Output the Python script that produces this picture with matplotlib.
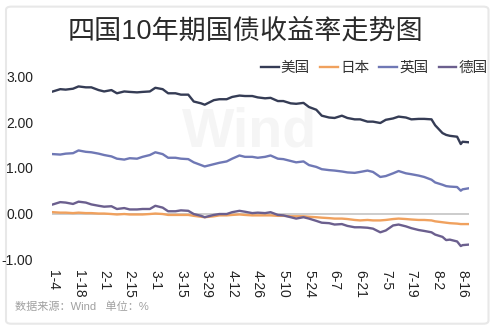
import matplotlib
matplotlib.use("Agg")
import matplotlib.pyplot as plt
from matplotlib.patches import FancyBboxPatch
import pandas as pd

plt.rcParams['font.family'] = ['Liberation Sans', 'Noto Sans CJK SC', 'DejaVu Sans']

# sampling dates (2019) and 10y yields in %
dates = ["01-04", "01-08", "01-11", "01-15", "01-18", "01-22", "01-25", "01-29",
         "02-01", "02-05", "02-08", "02-12", "02-15", "02-19", "02-22", "02-26",
         "03-01", "03-05", "03-08", "03-12", "03-15", "03-19", "03-22", "03-26",
         "03-28", "04-02", "04-05", "04-09", "04-12", "04-16", "04-19", "04-23",
         "04-26", "04-30", "05-03", "05-07", "05-10", "05-14", "05-17", "05-21",
         "05-24", "05-28", "05-31", "06-04", "06-07", "06-11", "06-14", "06-18",
         "06-21", "06-25", "06-28", "07-02", "07-05", "07-09", "07-12", "07-16",
         "07-19", "07-23", "07-26", "07-30", "08-01", "08-05", "08-07", "08-09",
         "08-13", "08-15", "08-16", "08-19"]

us = [2.67, 2.72, 2.71, 2.73, 2.78, 2.76, 2.76, 2.70,
      2.67, 2.70, 2.63, 2.67, 2.66, 2.65, 2.66, 2.67,
      2.75, 2.72, 2.63, 2.63, 2.60, 2.60, 2.45, 2.41,
      2.38, 2.48, 2.50, 2.50, 2.55, 2.58, 2.57, 2.57,
      2.54, 2.52, 2.53, 2.46, 2.46, 2.41, 2.40, 2.42,
      2.33, 2.27, 2.14, 2.10, 2.09, 2.14, 2.09, 2.06,
      2.06, 2.01, 2.01, 1.98, 2.05, 2.08, 2.12, 2.10,
      2.06, 2.07, 2.07, 2.06, 1.93, 1.76, 1.72, 1.70,
      1.68, 1.52, 1.57, 1.56]

japan = [0.03, 0.02, 0.02, 0.01, 0.02, 0.01, 0.01, 0.00,
         0.00, -0.01, -0.02, -0.01, -0.02, -0.02, -0.02, -0.01,
         0.00, -0.01, -0.03, -0.03, -0.03, -0.03, -0.05, -0.07,
         -0.08, -0.06, -0.04, -0.04, -0.03, -0.02, -0.03, -0.04,
         -0.04, -0.04, -0.04, -0.05, -0.05, -0.06, -0.06, -0.06,
         -0.07, -0.08, -0.09, -0.10, -0.11, -0.11, -0.12, -0.14,
         -0.15, -0.14, -0.15, -0.15, -0.14, -0.12, -0.11, -0.12,
         -0.13, -0.14, -0.14, -0.15, -0.17, -0.19, -0.20, -0.21,
         -0.22, -0.23, -0.23, -0.23]

uk = [1.30, 1.29, 1.31, 1.32, 1.38, 1.35, 1.34, 1.31,
      1.28, 1.25, 1.20, 1.18, 1.21, 1.20, 1.24, 1.28,
      1.34, 1.30, 1.22, 1.22, 1.20, 1.19, 1.12, 1.06,
      1.03, 1.08, 1.11, 1.14, 1.20, 1.27, 1.24, 1.24,
      1.22, 1.24, 1.27, 1.20, 1.19, 1.15, 1.12, 1.14,
      1.06, 1.02, 0.97, 0.95, 0.94, 0.92, 0.90, 0.89,
      0.91, 0.94, 0.91, 0.80, 0.82, 0.88, 0.93, 0.88,
      0.86, 0.83, 0.80, 0.74, 0.68, 0.63, 0.60, 0.59,
      0.58, 0.50, 0.53, 0.55]

germany = [0.20, 0.25, 0.24, 0.21, 0.26, 0.24, 0.20, 0.17,
           0.15, 0.16, 0.10, 0.12, 0.09, 0.09, 0.10, 0.10,
           0.17, 0.13, 0.05, 0.05, 0.07, 0.06, -0.01, -0.05,
           -0.08, -0.03, -0.01, -0.01, 0.03, 0.06, 0.04, 0.01,
           0.02, 0.01, 0.03, -0.03, -0.04, -0.08, -0.11, -0.08,
           -0.11, -0.16, -0.20, -0.21, -0.24, -0.23, -0.27, -0.30,
           -0.30, -0.31, -0.33, -0.41, -0.37, -0.26, -0.24, -0.28,
           -0.32, -0.36, -0.38, -0.41, -0.46, -0.51, -0.58, -0.57,
           -0.61, -0.71, -0.69, -0.68]

tick_labels = ["1-4", "1-18", "2-1", "2-15", "3-1", "3-15", "3-29", "4-12", "4-26",
               "5-10", "5-24", "6-7", "6-21", "7-5", "7-19", "8-2", "8-16"]

x = pd.to_datetime(["2019-" + d for d in dates])
tick_pos = pd.to_datetime(["2019-" + t.split("-")[0].zfill(2) + "-" + t.split("-")[1].zfill(2)
                           for t in tick_labels])

fig = plt.figure(figsize=(5, 3.32), dpi=100)
fig.patch.set_facecolor("white")

# card outline
card = FancyBboxPatch((0.012, 0.025), 0.965, 0.955, boxstyle="round,pad=0,rounding_size=0.01",
                      transform=fig.transFigure, facecolor="white", edgecolor="#e8e8e8",
                      linewidth=1.5, zorder=-1)
fig.patches.append(card)

ax = fig.add_axes([0.104, 0.219, 0.834, 0.551])
ax.set_facecolor("none")

ax.axhline(0, color="#c4c4c4", lw=1.2, zorder=1)
ax.plot(x, us, color="#353c55", lw=1.7, label="美国", zorder=3)
ax.plot(x, japan, color="#f0a15e", lw=1.7, label="日本", zorder=3)
ax.plot(x, uk, color="#6f78b5", lw=1.7, label="英国", zorder=3)
ax.plot(x, germany, color="#6b5f8e", lw=1.7, label="德国", zorder=3)

ax.set_ylim(-1.0, 3.0)
ax.set_yticks([-1, 0, 1, 2, 3])
ax.set_yticklabels(["-1.00", "0.00", "1.00", "2.00", "3.00"])
ax.set_xlim(x[0] - pd.Timedelta(days=0.5), x[-1] + pd.Timedelta(days=0.5))
ax.set_xticks(tick_pos)
ax.set_xticklabels(tick_labels, rotation=-90, va="top", ha="center")
ax.tick_params(axis="y", length=0, pad=13.5, labelsize=10, colors="#222222")
ax.tick_params(axis="x", length=0, pad=8, labelsize=10, colors="#222222")
for s in ax.spines.values():
    s.set_visible(False)

# faint watermark
fig.text(0.5, 0.6, "Wind", ha="center", va="center", fontsize=40, fontweight="bold",
         color="#f5f5f5", zorder=-0.5)

fig.text(0.49, 0.905, "四国10年期国债收益率走势图", ha="center", va="center",
         fontsize=19.5, color="#2a2a2a")

leg = fig.legend(loc="center right", bbox_to_anchor=(0.975, 0.795), ncol=4, frameon=False,
                 fontsize=10.5, handlelength=1.2, handletextpad=0.15, columnspacing=0.7,
                 borderpad=0, borderaxespad=0)
for t in leg.get_texts():
    t.set_color("#333333")

fig.text(0.03, 0.075, "数据来源：Wind   单位：%", ha="left", va="center", fontsize=8,
         color="#a0a0a0")

fig.savefig("out.png", dpi=100)
